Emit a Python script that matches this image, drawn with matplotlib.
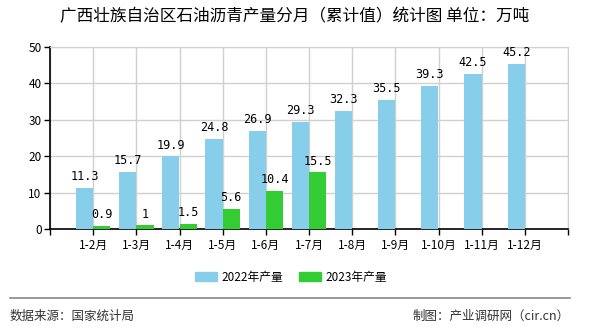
import numpy as np
import matplotlib.pyplot as plt
from matplotlib.patches import Patch
from matplotlib.lines import Line2D

plt.rcParams["font.family"] = ["Noto Sans CJK SC", "DejaVu Sans"]

MESES = ["1-2月", "1-3月", "1-4月", "1-5月", "1-6月", "1-7月",
         "1-8月", "1-9月", "1-10月", "1-11月", "1-12月"]
PRODUCAO_2022 = [11.3, 15.7, 19.9, 24.8, 26.9, 29.3, 32.3, 35.5, 39.3, 42.5, 45.2]
PRODUCAO_2023 = [0.9, 1, 1.5, 5.6, 10.4, 15.5]
ROTULOS_2023 = ["0.9", "1", "1.5", "5.6", "10.4", "15.5"]

COR_2022 = "#87CEEB"
COR_2023 = "#33CC33"
LARGURA = 0.4

fig = plt.figure(figsize=(5.9, 3.3), dpi=100)
ax = fig.add_axes([50 / 590, 1 - 229 / 330, 518 / 590, (229 - 46.7) / 330])

x = np.arange(len(MESES))
x23 = np.arange(len(PRODUCAO_2023))
ax.bar(x - LARGURA / 2, PRODUCAO_2022, width=LARGURA, color=COR_2022, zorder=3)
ax.bar(x23 + LARGURA / 2, PRODUCAO_2023, width=LARGURA, color=COR_2023, zorder=3)

for xi, v in zip(x, PRODUCAO_2022):
    ax.text(xi - LARGURA / 2, v + 1.3, f"{v}", ha="center", va="bottom",
            fontsize=8.5, family="DejaVu Sans Mono", zorder=4)
for xi, v, r in zip(x23, PRODUCAO_2023, ROTULOS_2023):
    ax.text(xi + LARGURA / 2, v + 1.3, r, ha="center", va="bottom",
            fontsize=8.5, family="DejaVu Sans Mono", zorder=4)

ax.set_xlim(-1, 11)
ax.set_ylim(0, 50)
ax.set_xticks(np.arange(-1, 12))
ax.set_xticklabels([""] + MESES + [""], fontsize=8.5)
ax.set_yticks(np.arange(0, 51, 10))
ax.tick_params(axis="y", labelsize=8.5, length=4, width=1, pad=2)
ax.tick_params(axis="x", length=4, width=1, pad=3)
ax.grid(True, color="#d0d0d0", linewidth=1, zorder=0)
ax.set_axisbelow(True)
for lado in ("top", "right"):
    ax.spines[lado].set_color("#d0d0d0")
for lado in ("left", "bottom"):
    ax.spines[lado].set_color("black")
    ax.spines[lado].set_linewidth(1.2)

fig.text(295 / 590, 1 - 17 / 330, "广西壮族自治区石油沥青产量分月（累计值）统计图 单位：万吨",
         ha="center", va="center", fontsize=12)

legenda = [Patch(color=COR_2022, label="2022年产量"),
           Patch(color=COR_2023, label="2023年产量")]
fig.legend(handles=legenda, loc="center", bbox_to_anchor=(291 / 590, 1 - 277 / 330),
           ncol=2, frameon=False, fontsize=8.5, handlelength=1.86, handleheight=0.8,
           columnspacing=1.35, handletextpad=0.4)

fig.add_artist(Line2D([10 / 590, 570 / 590], [1 - 298 / 330] * 2,
                      color="#888888", linewidth=1.2, transform=fig.transFigure))
fig.text(10 / 590, 1 - 316 / 330, "数据来源：国家统计局", ha="left", va="center",
         fontsize=9, color="#333333")
fig.text(570 / 590, 1 - 316 / 330, "制图：产业调研网（cir.cn）", ha="right", va="center",
         fontsize=9, color="#333333")

fig.savefig("out.png", dpi=100)
